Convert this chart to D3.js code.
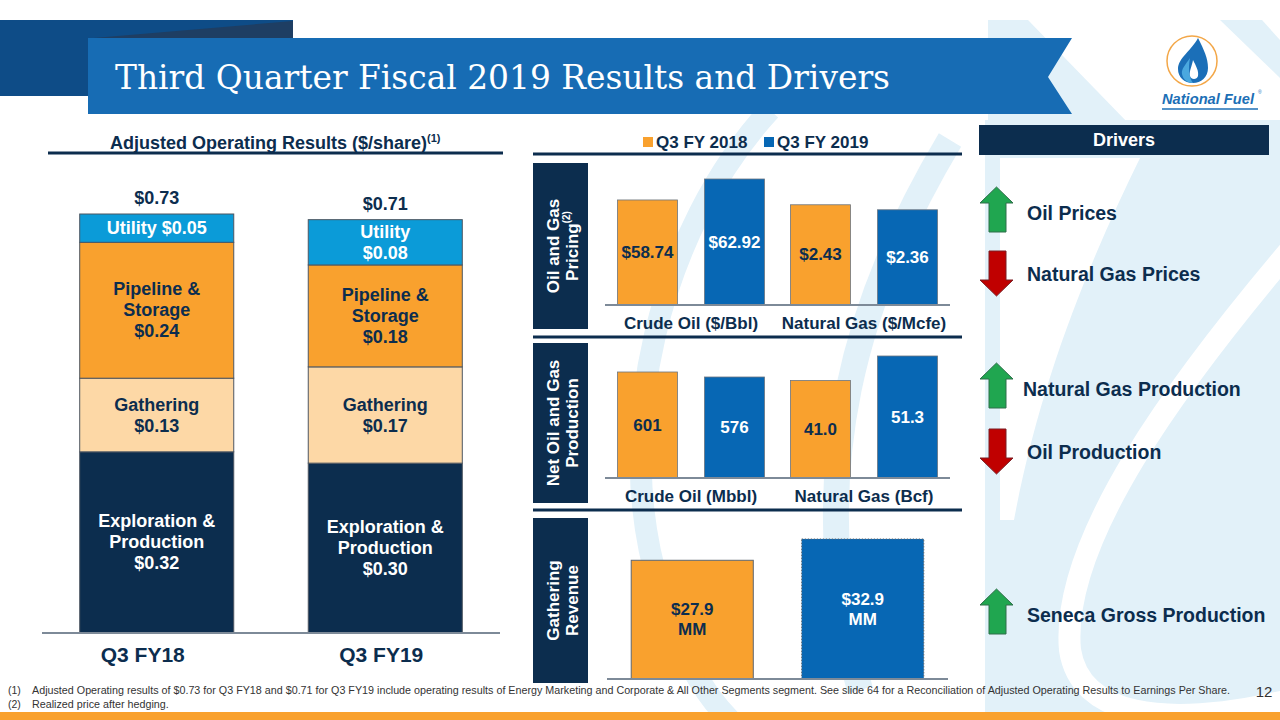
<!DOCTYPE html>
<html>
<head>
<meta charset="utf-8">
<script src="https://cdn.jsdelivr.net/npm/d3@7"></script>
<style>
  html, body { margin: 0; padding: 0; background: #ffffff; }
  svg { display: block; }
  text { font-family: "Liberation Sans", Arial, Helvetica, sans-serif; }
</style>
</head>
<body>
<svg id="chart" width="1280" height="720"></svg>
<script>
// ---------------- DATA ----------------
const titleText = "Third Quarter Fiscal 2019 Results and Drivers";

// Left: Adjusted Operating Results ($/share)
const periods = ["Q3 FY18", "Q3 FY19"];
const epValues = [0.32, 0.30];
const gatheringValues = [0.13, 0.17];
const pipelineValues = [0.24, 0.18];
const utilityValues = [0.05, 0.08];
const totalValues = [0.73, 0.71];

// Middle: legend series
const seriesNames = ["Q3 FY 2018", "Q3 FY 2019"];

// Oil and gas pricing
const priceCategories = ["Crude Oil ($/Bbl)", "Natural Gas ($/Mcfe)"];
const price2018 = [58.74, 2.43];
const price2019 = [62.92, 2.36];
const priceLabels2018 = ["$58.74", "$2.43"];
const priceLabels2019 = ["$62.92", "$2.36"];

// Net oil and gas production
const prodCategories = ["Crude Oil (Mbbl)", "Natural Gas (Bcf)"];
const prod2018 = [601, 41.0];
const prod2019 = [576, 51.3];
const prodLabels2018 = ["601", "41.0"];
const prodLabels2019 = ["576", "51.3"];

// Gathering revenue ($MM)
const gatheringRevenue = [27.9, 32.9];

// Drivers
const driverNames = ["Oil Prices", "Natural Gas Prices", "Natural Gas Production", "Oil Production", "Seneca Gross Production"];
const driverDirections = ["up", "down", "up", "down", "up"];

const footnotes = [
  ["(1)", "Adjusted Operating results of $0.73 for Q3 FY18 and $0.71 for Q3 FY19 include operating results of Energy Marketing and Corporate & All Other Segments segment.  See slide 64 for a Reconciliation of Adjusted Operating Results to Earnings Per Share."],
  ["(2)", "Realized price after hedging."]
];
const pageNumber = "12";

// ---------------- STYLE ----------------
const NAVY = "#0c2d4e";
const ORANGE = "#f9a12e";
const BLUE = "#0767b4";
const UTIL = "#0b9bd8";
const PEACH = "#fdd8a6";
const LIGHT = "#e2f1f9";
const seriesColors = [ORANGE, BLUE];

const svg = d3.select("#chart");

// ---------------- BACKGROUND WATERMARK ----------------
const bg = svg.append("g");
bg.append("path").attr("fill", LIGHT)
  .attr("d", "M985,120 L1280,120 L1280,720 L985,720 Z");
bg.append("path").attr("fill", "#ffffff")
  .attr("d", "M1000,158 L1140,158 C1090,260 1040,380 1014,520 L1000,520 Z");
bg.append("path").attr("fill", "none").attr("stroke", "#ffffff").attr("stroke-width", 22)
  .attr("d", "M1290,250 C1180,380 1060,540 1070,650 C1080,715 1160,730 1290,700");
bg.append("path").attr("fill", "none").attr("stroke", LIGHT).attr("stroke-width", 22)
  .attr("d", "M770,110 C660,230 610,430 660,590 C680,650 700,690 730,720");
bg.append("path").attr("fill", "none").attr("stroke", LIGHT).attr("stroke-width", 26)
  .attr("d", "M950,140 C860,290 800,470 860,690");
bg.append("polygon").attr("fill", LIGHT).attr("points", "988,20 1028,20 1130,125 988,125");
bg.append("polygon").attr("fill", LIGHT).attr("points", "1220,20 1262,20 1280,40 1280,78");

// ---------------- TITLE ----------------
svg.append("rect").attr("x", 0).attr("y", 20).attr("width", 293).attr("height", 76).attr("fill", "#0e4c87");
svg.append("polygon").attr("points", "94,38 293,21 293,38").attr("fill", "#1e3e63");
svg.append("polygon").attr("points", "88,38 1072,38 1048,77 1072,114 88,114").attr("fill", "#176cb4");
svg.append("text").attr("x", 115).attr("y", 89)
  .attr("textLength", 775).attr("lengthAdjust", "spacingAndGlyphs")
  .style("font-family", "'DejaVu Serif', 'Liberation Serif', serif")
  .style("font-size", "33px").attr("fill", "#ffffff").text(titleText);

// ---------------- LOGO ----------------
const logo = svg.append("g");
logo.append("circle").attr("cx", 1192).attr("cy", 61).attr("r", 25).attr("fill", "#ffffff")
  .attr("stroke", "#f3a748").attr("stroke-width", 1.5);
logo.append("path").attr("fill", "#1b6fb8")
  .attr("d", "M1198,38 C1204,50 1208,58 1208,68 C1208,77 1201,83 1193,83 C1184,83 1178,77 1178,69 C1178,58 1192,50 1198,38 Z");
logo.append("path").attr("fill", "#4aa8df")
  .attr("d", "M1190,58 C1186,64 1181,69 1182,74 C1183,80 1188,83 1193,83 C1189,78 1188,68 1190,58 Z");
logo.append("path").attr("fill", "#ffffff")
  .attr("d", "M1193,60 C1196,66 1199,71 1198,76 C1197,80 1191,80 1190,76 C1189,71 1192,66 1193,60 Z");
logo.append("text").attr("x", 1162).attr("y", 104)
  .attr("textLength", 92).attr("lengthAdjust", "spacingAndGlyphs")
  .style("font-size", "14px").style("font-weight", "bold").style("font-style", "italic")
  .attr("fill", "#1c6fb6").text("National Fuel");
logo.append("text").attr("x", 1258).attr("y", 94).style("font-size", "5px").attr("fill", "#1c6fb6").text("®");
logo.append("line").attr("x1", 1162).attr("x2", 1258).attr("y1", 109).attr("y2", 109)
  .attr("stroke", "#1c6fb6").attr("stroke-width", 1.5);

// ---------------- LEFT: STACKED BARS ----------------
const left = svg.append("g");
const hdr = left.append("text").attr("x", 110).attr("y", 149)
  .style("font-size", "18px").style("font-weight", "bold").attr("fill", NAVY);
hdr.append("tspan").text("Adjusted Operating Results ($/share)");
hdr.append("tspan").attr("dy", -7).style("font-size", "11px").text("(1)");
left.append("line").attr("x1", 48).attr("x2", 503).attr("y1", 153).attr("y2", 153)
  .attr("stroke", NAVY).attr("stroke-width", 3);

const segKeys = ["ep", "gathering", "pipeline", "utility"];
const segFill = { ep: NAVY, gathering: PEACH, pipeline: ORANGE, utility: UTIL };
const segText = { ep: "#ffffff", gathering: NAVY, pipeline: NAVY, utility: "#ffffff" };
const stackRows = periods.map((p, i) => ({
  period: p, ep: epValues[i], gathering: gatheringValues[i],
  pipeline: pipelineValues[i], utility: utilityValues[i], total: totalValues[i]
}));
const stacked = d3.stack().keys(segKeys)(stackRows);

const xL = d3.scaleBand().domain(periods).range([42, 500]).paddingInner(0.326).paddingOuter(0.165);
const yL = d3.scaleLinear().domain([0, 0.74]).range([633, 214]);
const money = v => "$" + d3.format(".2f")(v);

function segLines(key, v, h) {
  if (key === "ep") return ["Exploration &", "Production", money(v)];
  if (key === "gathering") return ["Gathering", money(v)];
  if (key === "pipeline") return ["Pipeline &", "Storage", money(v)];
  return h < 36 ? ["Utility " + money(v)] : ["Utility", money(v)];
}

stacked.forEach(layer => {
  const key = layer.key;
  layer.forEach((d, i) => {
    const x0 = xL(d.data.period), w = xL.bandwidth();
    const yTop = yL(d[1]), yBot = yL(d[0]);
    left.append("rect").attr("x", x0).attr("y", yTop).attr("width", w).attr("height", yBot - yTop)
      .attr("fill", segFill[key]).attr("stroke", "#4d5661").attr("stroke-width", 1);
    const lines = segLines(key, d.data[key], yBot - yTop);
    const lh = 21, cy = (yTop + yBot) / 2;
    lines.forEach((t, j) => {
      left.append("text").attr("x", x0 + w / 2).attr("y", cy + (j - (lines.length - 1) / 2) * lh)
        .attr("text-anchor", "middle").attr("dominant-baseline", "central")
        .style("font-size", "18px").style("font-weight", "bold").attr("fill", segText[key]).text(t);
    });
  });
});
// totals
stackRows.forEach(r => {
  const top = yL(r.ep + r.gathering + r.pipeline + r.utility);
  left.append("text").attr("x", xL(r.period) + xL.bandwidth() / 2).attr("y", top - 16)
    .attr("text-anchor", "middle").attr("dominant-baseline", "central")
    .style("font-size", "18px").style("font-weight", "bold").attr("fill", NAVY).text(money(r.total));
});
left.append("line").attr("x1", 42).attr("x2", 500).attr("y1", 633).attr("y2", 633)
  .attr("stroke", "#7d8a98").attr("stroke-width", 2);
const xAxisL = left.append("g").attr("transform", "translate(0,633)")
  .call(d3.axisBottom(xL).tickSize(0).tickPadding(14));
xAxisL.select(".domain").remove();
xAxisL.selectAll("text").style("font-size", "21px").style("font-weight", "bold")
  .attr("fill", NAVY).style("font-family", "'Liberation Sans', Arial, sans-serif")
  .attr("dx", (d, i) => i === 0 ? -14 : -4);

// ---------------- MIDDLE ----------------
const mid = svg.append("g");
// legend
const legX = [643, 764];
seriesNames.forEach((s, i) => {
  mid.append("rect").attr("x", legX[i]).attr("y", 137).attr("width", 10).attr("height", 10).attr("fill", seriesColors[i]);
  mid.append("text").attr("x", legX[i] + 13).attr("y", 148)
    .style("font-size", "17px").style("font-weight", "bold").attr("fill", NAVY).text(s);
});
[154, 337, 510].forEach(y => {
  mid.append("line").attr("x1", 533).attr("x2", 962).attr("y1", y).attr("y2", y)
    .attr("stroke", NAVY).attr("stroke-width", 3);
});

function sideBox(y0, y1, line1, line2, sup) {
  mid.append("rect").attr("x", 533).attr("y", y0).attr("width", 55).attr("height", y1 - y0).attr("fill", NAVY);
  const g = mid.append("g").attr("transform", `translate(562.5,${(y0 + y1) / 2}) rotate(-90)`);
  g.append("text").attr("x", 0).attr("y", -9.5).attr("text-anchor", "middle").attr("dominant-baseline", "central")
    .style("font-size", "17px").style("font-weight", "bold").attr("fill", "#ffffff").text(line1);
  const t2 = g.append("text").attr("x", 0).attr("y", 9.5).attr("text-anchor", "middle").attr("dominant-baseline", "central")
    .style("font-size", "17px").style("font-weight", "bold").attr("fill", "#ffffff");
  t2.append("tspan").text(line2);
  if (sup) t2.append("tspan").attr("dy", -6).style("font-size", "10px").text(sup);
}
sideBox(163, 329, "Oil and Gas", "Pricing", "(2)");
sideBox(343, 503, "Net Oil and Gas", "Production", null);
sideBox(518, 683, "Gathering", "Revenue", null);

function groupedPanel(cats, v18, v19, lab18, lab19, domains, baseY, topY) {
  const x0 = d3.scaleBand().domain(cats).range([605, 950]).paddingInner(0.15).paddingOuter(0.072);
  const x1 = d3.scaleBand().domain([0, 1]).range([0, x0.bandwidth()]).paddingInner(0.31).paddingOuter(0);
  cats.forEach((c, ci) => {
    const y = d3.scaleLinear().domain(domains[ci]).range([baseY, topY]);
    [[v18, lab18], [v19, lab19]].forEach(([vals, labs], si) => {
      const bx = x0(c) + x1(si), bw = x1.bandwidth(), by = y(vals[ci]);
      mid.append("rect").attr("x", bx).attr("y", by).attr("width", bw).attr("height", baseY - by)
        .attr("fill", seriesColors[si]).attr("stroke", "#6b7580").attr("stroke-width", 0.8);
      mid.append("text").attr("x", bx + bw / 2).attr("y", (by + baseY) / 2)
        .attr("text-anchor", "middle").attr("dominant-baseline", "central")
        .style("font-size", "17px").style("font-weight", "bold")
        .attr("fill", si === 0 ? NAVY : "#ffffff").text(labs[ci]);
    });
  });
  mid.append("line").attr("x1", 605).attr("x2", 950).attr("y1", baseY).attr("y2", baseY)
    .attr("stroke", "#7d8a98").attr("stroke-width", 2);
  const ax = mid.append("g").attr("transform", `translate(0,${baseY})`)
    .call(d3.axisBottom(x0).tickSize(0).tickPadding(12));
  ax.select(".domain").remove();
  ax.selectAll("text").style("font-size", "17px").style("font-weight", "bold").attr("fill", NAVY)
    .style("font-family", "'Liberation Sans', Arial, sans-serif");
}
groupedPanel(priceCategories, price2018, price2019, priceLabels2018, priceLabels2019,
  [[37.8, 62.92], [1.03, 2.79]], 305, 179);
groupedPanel(prodCategories, prod2018, prod2019, prodLabels2018, prodLabels2019,
  [[71, 681], [0, 51.3]], 478, 356);

// Gathering revenue
const xG = d3.scaleBand().domain(seriesNames).range([607, 948]).paddingInner(0.284).paddingOuter(0.142);
const yG = d3.scaleLinear().domain([0, 32.9]).range([679, 539]);
gatheringRevenue.forEach((v, i) => {
  const bx = xG(seriesNames[i]), bw = xG.bandwidth(), by = yG(v);
  mid.append("rect").attr("x", bx).attr("y", by).attr("width", bw).attr("height", 679 - by)
    .attr("fill", seriesColors[i]).attr("stroke", "#5d6670").attr("stroke-width", 1)
    .attr("stroke-dasharray", i === 1 ? "1.5,1.5" : null);
  const cy = (by + 679) / 2;
  ["$" + d3.format(".1f")(v), "MM"].forEach((t, j) => {
    mid.append("text").attr("x", bx + bw / 2).attr("y", cy + (j - 0.5) * 20)
      .attr("text-anchor", "middle").attr("dominant-baseline", "central")
      .style("font-size", "17px").style("font-weight", "bold")
      .attr("fill", i === 0 ? NAVY : "#ffffff").text(t);
  });
});
mid.append("line").attr("x1", 607).attr("x2", 948).attr("y1", 679).attr("y2", 679)
  .attr("stroke", "#7d8a98").attr("stroke-width", 2);

// ---------------- DRIVERS ----------------
const drv = svg.append("g");
drv.append("rect").attr("x", 979).attr("y", 125).attr("width", 290).attr("height", 30).attr("fill", NAVY);
drv.append("text").attr("x", 1124).attr("y", 140).attr("text-anchor", "middle").attr("dominant-baseline", "central")
  .style("font-size", "18px").style("font-weight", "bold").attr("fill", "#ffffff").text("Drivers");

const arrowTop = [187, 251, 363, 429, 589];
const textX = [1027, 1027, 1023, 1027, 1027];
driverNames.forEach((name, i) => {
  const y0 = arrowTop[i], up = driverDirections[i] === "up";
  const pts = up
    ? [[996.5, y0], [1013, y0 + 16], [1006, y0 + 16], [1006, y0 + 45], [989, y0 + 45], [989, y0 + 16], [980, y0 + 16]]
    : [[989, y0], [1006, y0], [1006, y0 + 29], [1013, y0 + 29], [996.5, y0 + 45], [980, y0 + 29], [989, y0 + 29]];
  drv.append("polygon").attr("points", pts.map(p => p.join(",")).join(" "))
    .attr("fill", up ? "#20a650" : "#c00000").attr("stroke", up ? "#2f6e4a" : "#7a1f24").attr("stroke-width", 1);
  drv.append("text").attr("x", textX[i]).attr("y", y0 + 23 + (up ? 3 : 0)).attr("dominant-baseline", "central")
    .style("font-size", "19.5px").style("font-weight", "bold").attr("fill", NAVY).text(name);
});

// ---------------- FOOTNOTES ----------------
const fn = svg.append("g");
const fnFont = "'Liberation Sans Narrow', 'Liberation Sans', Arial, sans-serif";
let squeeze = 1;
footnotes.forEach((f, i) => {
  const y = 694 + i * 14;
  fn.append("text").attr("x", 8).attr("y", y).style("font-size", "10.5px").attr("fill", "#333333")
    .style("font-family", fnFont).text(f[0]);
  const t = fn.append("text").attr("x", 32).attr("y", y).style("font-size", "10.5px").attr("fill", "#333333")
    .style("font-family", fnFont).text(f[1]);
  const natural = t.node().getComputedTextLength();
  if (i === 0) squeeze = 1198 / natural;
  t.attr("textLength", natural * squeeze).attr("lengthAdjust", "spacingAndGlyphs");
});
fn.append("text").attr("x", 1264).attr("y", 697).attr("text-anchor", "middle")
  .style("font-size", "15px").attr("fill", "#333333").text(pageNumber);
svg.append("rect").attr("x", 0).attr("y", 712).attr("width", 1280).attr("height", 8).attr("fill", ORANGE);
</script>
</body>
</html>
